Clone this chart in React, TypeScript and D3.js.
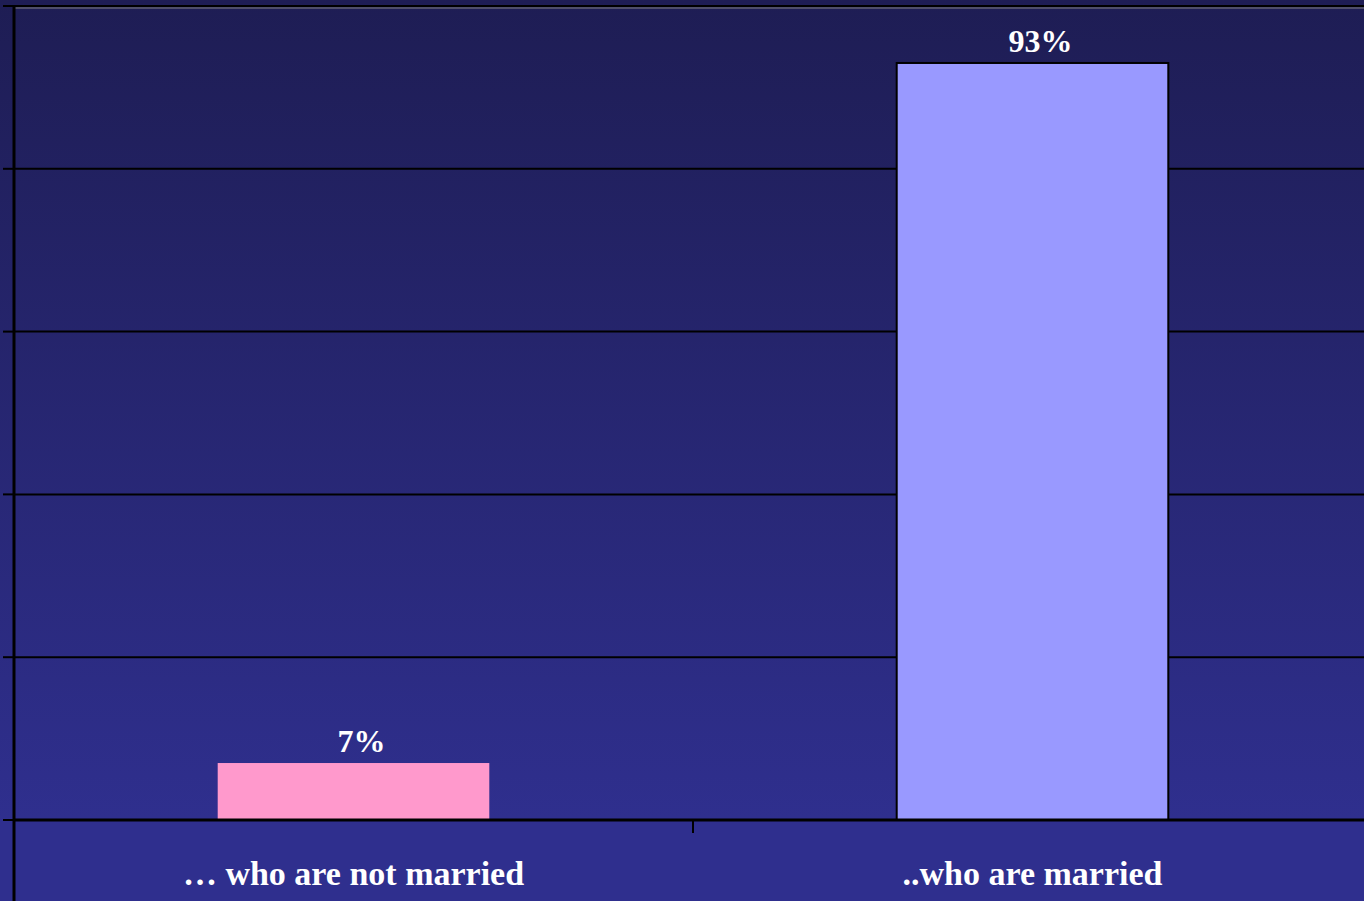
import React from "react";
import * as d3 from "d3";

const categories = ["… who are not married", "..who are married"];
const values = [7, 93];
const valueLabels = ["7%", "93%"];
const barColors = ["#ff99cc", "#9999ff"];
const yTicks = [0, 20, 40, 60, 80, 100];

const W = 1364;
const H = 901;
const left = 14;
const right = 1372;
const top = 6;
const bottom = 820;

export default function App() {
  const x = d3.scaleBand<string>().domain(categories).range([left, right]).padding(0);
  const y = d3.scaleLinear().domain([0, 100]).range([bottom, top]);
  const bw = x.bandwidth() * 0.4;
  const font = "'Liberation Serif', 'Times New Roman', serif";

  return (
    <svg width={W} height={H} style={{ position: "absolute", left: 0, top: 0 }}>
      <defs>
        <linearGradient id="bg" x1="0" y1="0" x2="0" y2={bottom} gradientUnits="userSpaceOnUse">
          <stop offset="0" stopColor="#1e1d54" />
          <stop offset="1" stopColor="#2f2f8e" />
        </linearGradient>
      </defs>
      <rect x={0} y={0} width={W} height={H} fill="#2f2f8e" />
      <rect x={0} y={0} width={W} height={bottom} fill="url(#bg)" />
      {/* gridlines */}
      {yTicks.map((t) => (
        <line key={t} x1={left} x2={W} y1={y(t)} y2={y(t)} stroke="#000" strokeWidth={2} />
      ))}
      <line x1={left} x2={W} y1={y(100) + 2} y2={y(100) + 2} stroke="#808080" strokeWidth={1} />
      {/* left ticks */}
      {yTicks.map((t) => (
        <line key={"t" + t} x1={3} x2={left} y1={y(t)} y2={y(t)} stroke="#000" strokeWidth={2} />
      ))}
      {/* bars */}
      {categories.map((c, i) => {
        const cx = (x(c) as number) + x.bandwidth() / 2;
        return (
          <g key={c}>
            <rect
              x={cx - bw / 2}
              y={y(values[i])}
              width={bw}
              height={bottom - y(values[i])}
              fill={barColors[i]}
              stroke={i === 1 ? "#000" : "none"}
              strokeWidth={2}
            />
            <text
              x={cx + 8}
              y={y(values[i]) - 11}
              textAnchor="middle"
              fill="#fff"
              fontFamily={font}
              fontWeight="bold"
              fontSize={32}
            >
              {valueLabels[i]}
            </text>
            <text
              x={cx}
              y={885}
              textAnchor="middle"
              fill="#fff"
              fontFamily={font}
              fontWeight="bold"
              fontSize={34}
            >
              {c}
            </text>
          </g>
        );
      })}
      {/* axes */}
      <line x1={left} x2={W} y1={bottom} y2={bottom} stroke="#000" strokeWidth={3} />
      <line x1={left} x2={left} y1={top - 1} y2={H} stroke="#000" strokeWidth={3} />
      {categories.slice(1).map((c) => (
        <line key={"xt" + c} x1={x(c) as number} x2={x(c) as number} y1={bottom} y2={bottom + 13} stroke="#000" strokeWidth={2} />
      ))}
    </svg>
  );
}
